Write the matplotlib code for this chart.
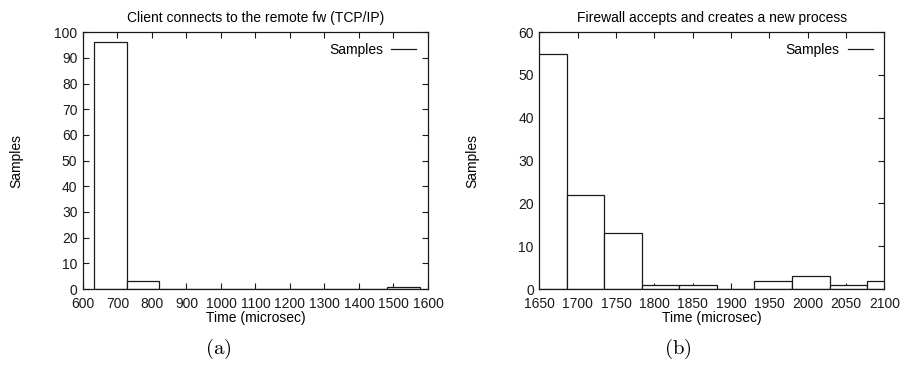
import numpy as np
import matplotlib
matplotlib.use("Agg")
import matplotlib.pyplot as plt
from matplotlib.lines import Line2D

# panel (a): client connects to the remote fw
a_start = 632.0
a_width = 94.5
a_counts = [96, 3, 0, 0, 0, 0, 0, 0, 0, 1]
a_xticks = list(range(600, 1601, 100))
a_yticks = list(range(0, 101, 10))

# panel (b): firewall accepts and creates a new process
b_start = 1636.5
b_width = 49.0
b_counts = [55, 22, 13, 1, 1, 0, 2, 3, 1, 2]
b_xticks = list(range(1650, 2101, 50))
b_yticks = list(range(0, 61, 10))

plt.rcParams["font.family"] = ["Liberation Sans", "DejaVu Sans"]
plt.rcParams["mathtext.fontset"] = "cm"

fig = plt.figure(figsize=(9.02, 3.65), dpi=100)
ax_a = fig.add_axes([0.092, 0.208, 0.3825, 0.704])
ax_b = fig.add_axes([0.598, 0.208, 0.3825, 0.704])

panels = [
    (ax_a, a_start, a_width, a_counts, a_xticks, a_yticks, (600, 1600), (0, 100),
     "Client connects to the remote fw (TCP/IP)", "(a)", 0.242),
    (ax_b, b_start, b_width, b_counts, b_xticks, b_yticks, (1650, 2100), (0, 60),
     "Firewall accepts and creates a new process", "(b)", 0.752),
]

for ax, start, width, counts, xticks, yticks, xlim, ylim, title, tag, tag_x in panels:
    edges = start + width * np.arange(len(counts))
    ax.bar(edges, counts, width=width, align="edge", color="white",
           edgecolor="#1a1a1a", linewidth=0.9, zorder=2)
    ax.set_xlim(*xlim)
    ax.set_ylim(*ylim)
    ax.set_xticks(xticks)
    ax.set_yticks(yticks)
    ax.tick_params(direction="in", top=True, right=True, length=4, width=0.8,
                   labelsize=10, colors="#1a1a1a")
    ax.tick_params(axis="x", pad=6)
    ax.tick_params(axis="y", pad=4)
    for sp in ax.spines.values():
        sp.set_linewidth(0.9)
        sp.set_color("#1a1a1a")
    ax.set_title(title, fontsize=10, pad=7)
    ax.set_xlabel("Time (microsec)", fontsize=10)
    ax.xaxis.set_label_coords(0.5, -0.085)
    ax.set_ylabel("Samples", fontsize=10)
    ax.yaxis.set_label_coords(-0.174, 0.5)
    handle = Line2D([], [], color="#1a1a1a", linewidth=0.9)
    ax.legend([handle], ["Samples"], loc="upper right", frameon=False,
              markerfirst=False, fontsize=10, handlelength=1.8,
              handletextpad=0.6, borderaxespad=0.5,
              bbox_to_anchor=(1.002, 1.006))
    fig.text(tag_x, 0.045, r"$\mathrm{" + tag + "}$",
             fontsize=15, ha="center", va="center")

fig.savefig("out.png", dpi=100)
